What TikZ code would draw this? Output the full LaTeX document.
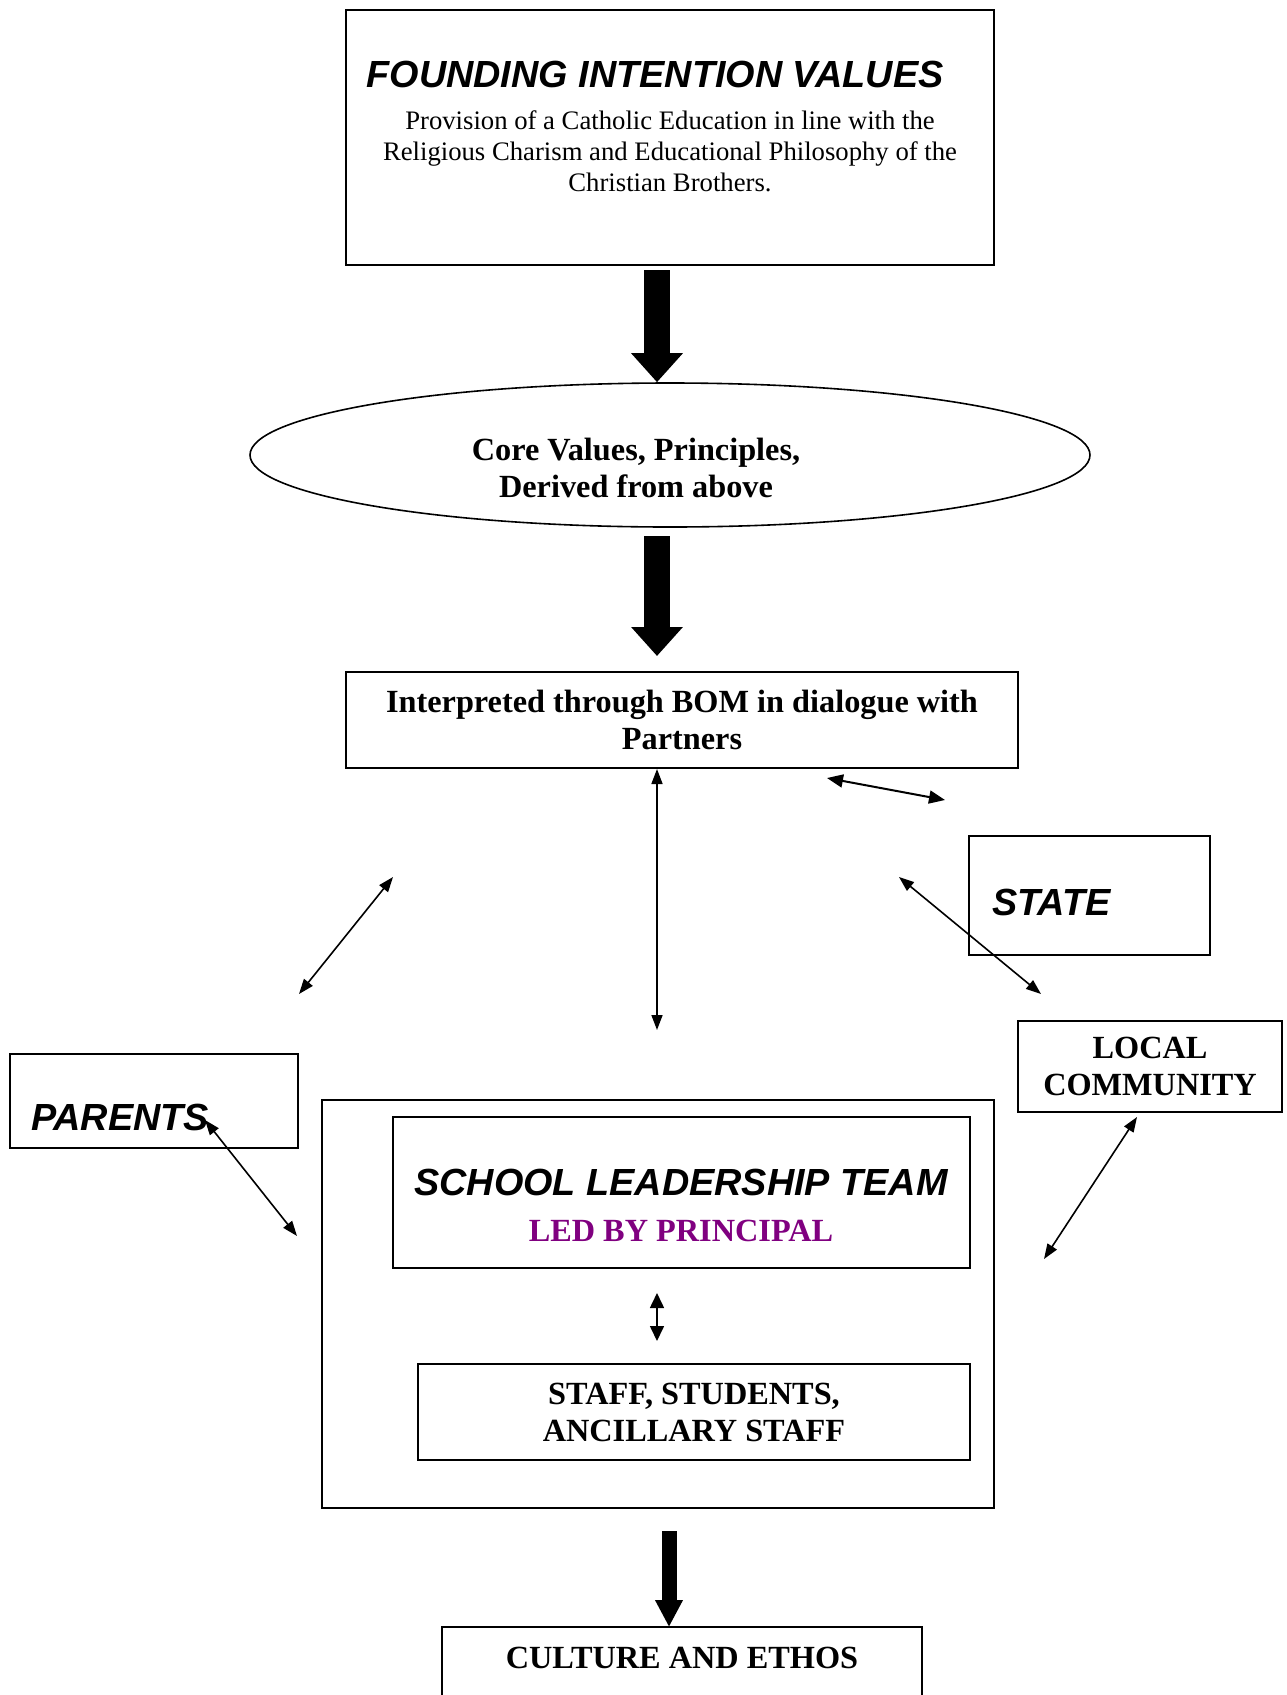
\documentclass[tikz,border=0pt]{standalone}
\usepackage{fontspec}
\setmainfont{Liberation Serif}
\newfontfamily\arialfam{Liberation Sans}
\usetikzlibrary{arrows.meta,shapes.geometric}
\definecolor{ledpurple}{RGB}{128,0,128}
\tikzset{
  box/.style={draw, line width=2pt, rectangle, inner sep=0pt},
  thick arrow/.style={line width=26pt, -{Triangle[length=29pt,width=50pt]}},
  thin arrow/.style={line width=1.6pt, {Triangle[length=15pt,width=11pt]}-{Triangle[length=15pt,width=11pt]}},
  headtxt/.style={font=\arialfam\bfseries\itshape\fontsize{37.8}{42}\selectfont, inner sep=0pt},
  boldtxt/.style={font=\bfseries\fontsize{32.3}{37}\selectfont, align=center, inner sep=0pt},
}
\begin{document}
\begin{tikzpicture}[x=1pt,y=-1pt]
\useasboundingbox[fill=white] (0,0) rectangle (1286,1695);
\clip (0,0) rectangle (1286,1695);

% top box
\node[box, minimum width=648pt, minimum height=255pt] (ftop) at (670,137.5) {};
\node[headtxt] (ftitle) at (655,74) {FOUNDING INTENTION VALUES};
\node[font=\fontsize{26.7}{31}\selectfont, align=center, inner sep=0pt] (fbody) at (670,151)
  {Provision of a Catholic Education in line with the\\Religious Charism and Educational Philosophy of the\\Christian Brothers.};

% ellipse
\node[draw, line width=1.6pt, ellipse, minimum width=840pt, minimum height=144pt, inner sep=0pt] (ell) at (670,455) {};
\node[boldtxt] (elltxt) at (636,468) {Core Values, Principles,\\Derived from above};

% BOM box
\node[box, minimum width=672pt, minimum height=96pt, boldtxt] (bom) at (682,720) {Interpreted through BOM in dialogue with\\Partners};

% thick arrows
\coordinate (a1s) at (657,270);
\draw[thick arrow] (a1s) -- (a1s |- ell.north);
\coordinate (a2s) at (657,536);
\coordinate (a2e) at (657,656);
\draw[thick arrow] (a2s) -- (a2e);

% STATE
\node[box, minimum width=241pt, minimum height=119pt] (state) at (1089.5,895.5) {};
\node[headtxt, anchor=west] (statetxt) at (992,902) {STATE};

% LOCAL COMMUNITY
\node[box, minimum width=264pt, minimum height=91pt, boldtxt] (lc) at (1150,1066.5) {LOCAL\\COMMUNITY};

% PARENTS
\node[box, minimum width=288pt, minimum height=94pt] (parents) at (154,1101) {};
\node[headtxt, anchor=west] (parentstxt) at (31,1117) {PARENTS};

% School outer box
\node[box, minimum width=672pt, minimum height=408pt] (school) at (658,1304) {};
\node[box, minimum width=577pt, minimum height=151pt] (slt) at (681.5,1192.5) {};
\node[headtxt] (slttxt) at (681,1182) {SCHOOL LEADERSHIP TEAM};
\node[boldtxt, text=ledpurple] (ledtxt) at (681,1231) {LED BY PRINCIPAL};
\node[box, minimum width=552pt, minimum height=96pt, boldtxt] (staff) at (694,1412) {STAFF, STUDENTS,\\ANCILLARY STAFF};

% culture box
\draw[line width=2pt] (442,1760) |- (922,1627) -- (922,1760);
\coordinate (cul) at (682,1627);
\node[boldtxt] (cultxt) at (682,1658) {CULTURE AND ETHOS};

% thick arrow 3
\coordinate (a3s) at (669,1531);
\draw[line width=15pt, -{Triangle[length=27pt,width=26pt]}] (a3s) -- (a3s |- cul);

% thin double arrows
\coordinate (v1e) at (657,1030);
\draw[thin arrow] (bom.south -| v1e) -- (v1e);
\coordinate (s1) at (827,778);
\coordinate (s2) at (945,800);
\draw[line width=2pt, {Triangle[length=16pt,width=13pt]}-{Triangle[length=16pt,width=13pt]}] (s1) -- (s2);
\coordinate (l1) at (393,877);
\coordinate (l2) at (299,994);
\draw[thin arrow] (l1) -- (l2);
\coordinate (r1) at (899,877);
\coordinate (r2) at (1041,994);
\draw[thin arrow] (r1) -- (r2);
\coordinate (c1) at (1137,1117);
\coordinate (c2) at (1044,1259);
\draw[thin arrow] (c1) -- (c2);
\coordinate (p1) at (205,1120);
\coordinate (p2) at (297,1236);
\draw[thin arrow] (p1) -- (p2);
\coordinate (m1) at (657,1293);
\coordinate (m2) at (657,1341);
\draw[line width=1.6pt, {Triangle[length=15pt,width=14pt]}-{Triangle[length=15pt,width=14pt]}] (m1) -- (m2);
\end{tikzpicture}
\end{document}
